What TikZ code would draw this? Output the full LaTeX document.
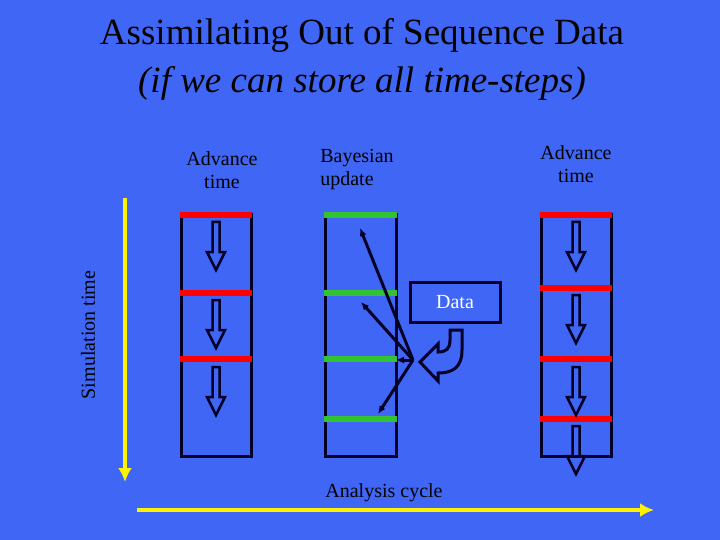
\documentclass[tikz,border=0pt]{standalone}
\usepackage{fontspec}
\setmainfont{Liberation Serif}
\usetikzlibrary{arrows.meta}
\begin{document}
\begin{tikzpicture}[x=1pt,y=-1pt,
  col/.style={draw=black!85!blue,line width=3pt},
  redbar/.style={draw=red,line width=6pt},
  grnbar/.style={draw=green!70!black!80!white,line width=6pt},
  ptr/.style={draw=black!85!blue,line width=3pt,-{Latex[length=8pt,width=7pt]}},
  lbl/.style={text=black,font=\fontsize{20}{23}\selectfont,align=center},
  yel/.style={draw=yellow,line width=4.5pt,-{Latex[length=14pt,width=14pt]}},
  pics/hol/.style={code={\draw[black!85!blue,line width=2.5pt,fill=none]
    (-3.5,0)--(3.5,0)--(3.5,30)--(9,30)--(0,48)--(-9,30)--(-3.5,30)--cycle;}}]
\fill[fill={rgb,255:red,64;green,102;blue,245}] (0,0) rectangle (720,540);
\useasboundingbox (0,0) rectangle (720,540);
\node[lbl,font=\fontsize{37}{40}\selectfont] (t1) at (362,35) {Assimilating Out of Sequence Data};
\node[lbl,font=\fontsize{37}{40}\selectfont\itshape] (t2) at (362,83) {(if we can store all time-steps)};
\node[lbl] (a1) at (222,170) {Advance\\time};
\node[lbl,align=left] (b1) at (357,170) {Bayesian\\update};
\node[lbl] (a2) at (576,164) {Advance\\time};
\node[lbl,rotate=90] (st) at (88,335) {Simulation time};
\node[lbl] (ac) at (384,493) {Analysis cycle};
% columns
\draw[col] (181,215) rectangle (251,456);
\draw[col] (325,215) rectangle (396,456);
\draw[col] (541,215) rectangle (611,456);
\foreach \y in {215,293,359} \draw[redbar] (180,\y)--(252,\y);
\foreach \y in {215,293,359,419} \draw[grnbar] (324,\y)--(397,\y);
\foreach \y in {215,288,359,419} \draw[redbar] (540,\y)--(612,\y);
\foreach \y in {222,300,367} \pic at (216,\y) {hol};
\foreach \y in {222,295,367,426} \pic at (576,\y) {hol};
% data
\node[draw=black!85!blue,line width=3pt,minimum width=90pt,minimum height=40pt,text=white,font=\fontsize{20}{23}\selectfont] (d) at (455,302) {Data};
\coordinate (p) at (413,360);
\coordinate (e1) at (360,228);
\coordinate (e2) at (361,302);
\coordinate (e3) at (396,360);
\coordinate (e4) at (378,414);
\foreach \e in {e1,e2,e3,e4} \draw[ptr] (p)--(\e);
\draw[black!85!blue,line width=3pt] (462,330) -- (462,350) .. controls (462,368) and (452,373) .. (438,373) -- (438,381) -- (420,362) -- (438,344) -- (438,352) .. controls (446,352) and (450,349) .. (450,340) -- (450,330) -- cycle;
% axes
\coordinate (v1) at (125,198); \coordinate (v2) at (125,482);
\coordinate (h1) at (137,510); \coordinate (h2) at (654,510);
\draw[yel] (v1)--(v2);
\draw[yel] (h1)--(h2);
\end{tikzpicture}
\end{document}
